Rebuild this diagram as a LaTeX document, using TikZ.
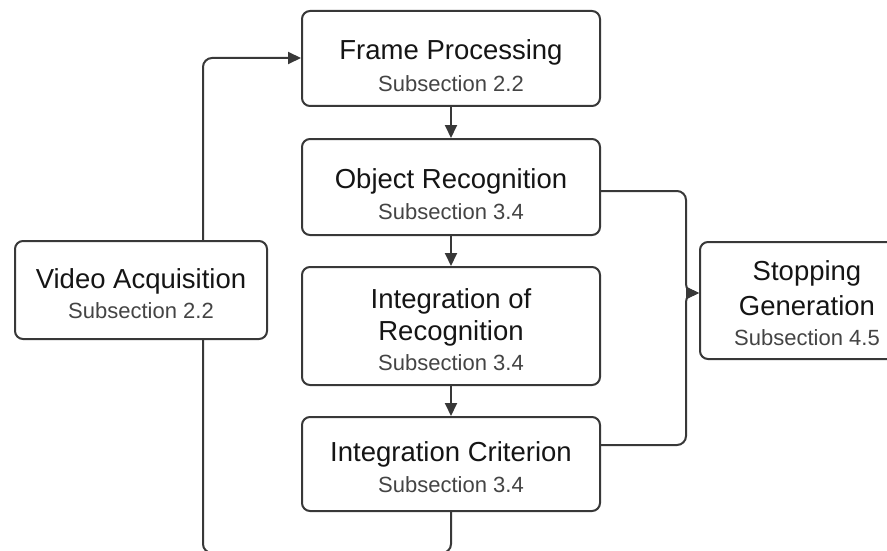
\documentclass[tikz,border=0pt]{standalone}
\usepackage{fontspec}
\setmainfont{Liberation Sans}
\usetikzlibrary{arrows.meta}
\definecolor{edgegray}{HTML}{383838}
\definecolor{titlecol}{HTML}{151515}
\definecolor{subcol}{HTML}{444444}
\tikzset{
  stagebox/.style={draw=edgegray, line width=2pt, rounded corners=8pt, fill=white, inner sep=0pt},
  ttl/.style={anchor=base, text=titlecol, font=\fontsize{27.5}{31}\selectfont, inner sep=0pt},
  sub/.style={anchor=base, text=subcol, font=\fontsize{22}{26}\selectfont, inner sep=0pt},
  flow/.style={draw=edgegray, line width=2pt, rounded corners=9pt,
    -{Triangle[length=13pt,width=12pt]}},
  plainflow/.style={draw=edgegray, line width=2pt, rounded corners=9pt},
}
\begin{document}
\begin{tikzpicture}[x=1pt,y=-1pt]
\useasboundingbox (0,0) rectangle (887,551);
\clip (0,0) rectangle (887,551);
\fill[white] (0,0) rectangle (887,551);

% boxes
\node[stagebox, minimum width=298pt, minimum height=95pt] (fp) at (451,58.5) {};
\node[stagebox, minimum width=298pt, minimum height=96pt] (or) at (451,187) {};
\node[stagebox, minimum width=298pt, minimum height=118pt] (ir) at (451,326) {};
\node[stagebox, minimum width=298pt, minimum height=94pt] (ic) at (451,464) {};
\node[stagebox, minimum width=252pt, minimum height=98pt] (va) at (141,290) {};
\node[stagebox, minimum width=214pt, minimum height=117pt] (sg) at (807,300.5) {};

% labels
\node[ttl] (fp-a) at (451,60) {Frame Processing};
\node[sub] (fp-b) at (451,92) {Subsection 2.2};
\node[ttl] (or-a) at (451,188) {Object Recognition};
\node[sub] (or-b) at (451,219) {Subsection 3.4};
\node[ttl] (ir-a) at (451,308) {Integration of};
\node[ttl] (ir-b) at (451,340) {Recognition};
\node[sub] (ir-c) at (451,370) {Subsection 3.4};
\node[ttl] (ic-a) at (451,461) {Integration Criterion};
\node[sub] (ic-b) at (451,492) {Subsection 3.4};
\node[ttl] (va-a) at (141,288) {Video Acquisition};
\node[sub] (va-b) at (141,318) {Subsection 2.2};
\node[ttl] (sg-a) at (807,280) {Stopping};
\node[ttl] (sg-b) at (807,315) {Generation};
\node[sub] (sg-c) at (807,345) {Subsection 4.5};

% routing points
\coordinate (loopTop) at (203,58);
\coordinate (loopBot) at (203,553);
\coordinate (icLow) at (451,553);
\coordinate (mergeA) at (686,191);
\coordinate (mergeB) at (686,445);
\coordinate (mergeC) at (686,293);

% main chain
\draw[flow] (fp.south) -- (or.north);
\draw[flow] (or.south) -- (ir.north);
\draw[flow] (ir.south) -- (ic.north);

% feedback loop
\draw[flow] (va.north -| loopTop) -- (loopTop) -- (fp.west |- loopTop);
\draw[plainflow] (ic.south) -- (icLow) -- (loopBot) -- (va.south -| loopBot);

% merge into stopping
\draw[flow] (or.east |- mergeA) -- (mergeA) -- (mergeC) -- (sg.west |- mergeC);
\draw[flow] (ic.east |- mergeB) -- (mergeB) -- (mergeC) -- (sg.west |- mergeC);
\end{tikzpicture}
\end{document}
